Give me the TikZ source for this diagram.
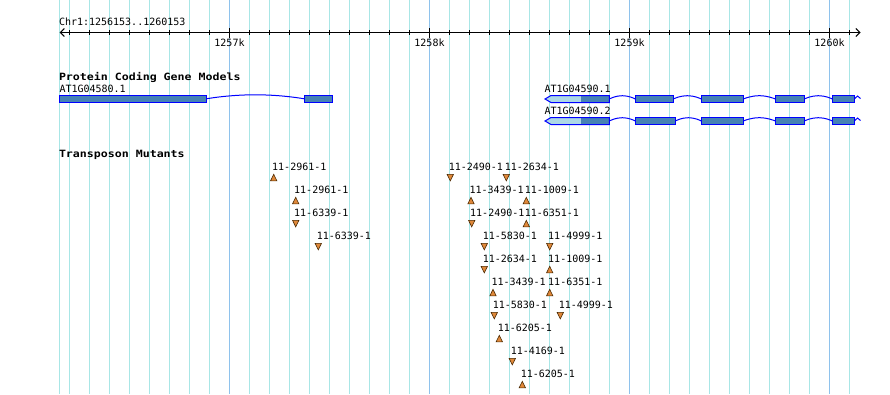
\documentclass[tikz,border=0pt]{standalone}
\usepackage{fontspec}
\usetikzlibrary{arrows.meta}
\newfontfamily\monof{DejaVu Sans Mono}
\newfontfamily\hdrf[FakeStretch=1.16]{DejaVu Sans Mono Bold}
\definecolor{minorgrid}{HTML}{A8E6E6}
\definecolor{majorgrid}{HTML}{8EC2EC}
\definecolor{exonfill}{HTML}{4682B4}
\definecolor{utrfill}{HTML}{ADD8E6}
\definecolor{exonline}{HTML}{0000FF}
\definecolor{mutfill}{HTML}{E0883A}
\definecolor{mutline}{HTML}{4A2800}
\tikzset{
  txt/.style={inner sep=0pt, outer sep=0pt, font=\monof\fontsize{10}{12}\selectfont, anchor=base west},
  hdr/.style={inner sep=0pt, outer sep=0pt, font=\hdrf\fontsize{10}{12}\selectfont, anchor=base west},
  ticklab/.style={inner sep=0pt, outer sep=0pt, font=\monof\fontsize{10}{12}\selectfont, anchor=base},
  gminor/.style={draw=minorgrid, line width=1pt},
  gmajor/.style={draw=majorgrid, line width=1pt},
  exon/.style={fill=exonfill, draw=exonline, line width=1pt},
  intron/.style={draw=exonline, line width=1pt},
  mutant/.style={fill=mutfill, draw=mutline, line width=0.6pt, line join=miter},
  axisline/.style={draw=black, line width=1pt}
}
\begin{document}
\begin{tikzpicture}[x=1pt,y=-1pt]
\useasboundingbox (0,0) rectangle (890,394);
\fill[white] (0,0) rectangle (890,394);
% grid
\draw[gminor] (59.5,0) -- (59.5,394);
\foreach \x in {69.5,89.5,...,849.5} {\draw[gminor] (\x,0) -- (\x,394);}
\foreach \x in {229.5,429.5,629.5,829.5} {\draw[gmajor] (\x,0) -- (\x,394);}
% ruler
\node[txt] (chr) at (59,25) {Chr1:1256153..1260153};
\coordinate (axL) at (59.6,32.5);
\coordinate (axR) at (860.5,32.5);
\draw[axisline, {Straight Barb[length=4pt,width=8pt]}-{Straight Barb[length=4pt,width=8pt]}] (axL) -- (axR);
\foreach \x in {69.5,89.5,...,849.5} {\draw[axisline] (\x,30) -- (\x,35);}
\foreach \x in {229.5,429.5,629.5,829.5} {\draw[axisline] (\x,28) -- (\x,37.5);}
\node[ticklab] (t1) at (229.5,46) {1257k};
\node[ticklab] (t2) at (429.5,46) {1258k};
\node[ticklab] (t3) at (629.5,46) {1259k};
\node[ticklab] (t4) at (829.5,46) {1260k};
% gene models
\node[hdr] (pcgm) at (59,80) {Protein Coding Gene Models};
\node[txt] (g1) at (59.5,92) {AT1G04580.1};
\draw[intron] (206.3,98.8) parabola bend (255.3,94.8) (304.3,98.8);
\draw[exon] (59.5,95.5) rectangle (206.3,102.5);
\draw[exon] (304.3,95.5) rectangle (332.7,102.5);
\node[txt] (g2) at (544.5,92) {AT1G04590.1};
\node[txt] (g3) at (544.5,114.3) {AT1G04590.2};
% AT1G04590.1
\foreach \a/\b in {609.3/635.3,673.3/701.3,743.3/775.3,804.3/832.3} {
  \draw[intron] (\a,99) parabola bend ({(\a+\b)/2},95.7) (\b,99);
}
\draw[intron] (854.3,99) -- (857.5,96) -- (860.5,98.5);
\fill[utrfill] (545,99) -- (551,95.5) -- (581,95.5) -- (581,102.5) -- (551,102.5) -- cycle;
\fill[exonfill] (581,95.5) rectangle (609.3,102.5);
\draw[intron, line join=miter] (545,99) -- (551,95.5) -- (609.3,95.5) -- (609.3,102.5) -- (551,102.5) -- cycle;
\foreach \a/\b in {635.3/673.3,701.3/743.3,775.3/804.3,832.3/854.3} {
  \draw[exon] (\a,95.5) rectangle (\b,102.5);
}
% AT1G04590.2
\foreach \a/\b in {609.3/635.3,675.3/701.3,743.3/775.3,804.3/832.3} {
  \draw[intron] (\a,121) parabola bend ({(\a+\b)/2},117.7) (\b,121);
}
\draw[intron] (854.3,121) -- (857.5,118) -- (860.5,120.5);
\fill[utrfill] (545,121) -- (551,117.5) -- (581,117.5) -- (581,124.5) -- (551,124.5) -- cycle;
\fill[exonfill] (581,117.5) rectangle (609.3,124.5);
\draw[intron, line join=miter] (545,121) -- (551,117.5) -- (609.3,117.5) -- (609.3,124.5) -- (551,124.5) -- cycle;
\foreach \a/\b in {635.3/675.3,701.3/743.3,775.3/804.3,832.3/854.3} {
  \draw[exon] (\a,117.5) rectangle (\b,124.5);
}
% transposon mutants
\node[hdr] (tm) at (59,157.5) {Transposon Mutants};
\foreach \n/\r/\c/\s/\t in {
  a/1/273.7/1/11-2961-1,
  b/2/295.7/1/11-2961-1,
  c/3/295.7/-1/11-6339-1,
  d/4/318.3/-1/11-6339-1,
  e/1/450.3/-1/11-2490-1,
  f/1/506.3/-1/11-2634-1,
  g/2/471.0/1/11-3439-1,
  h/2/526.3/1/11-1009-1,
  i/3/471.7/-1/11-2490-1,
  j/3/526.3/1/11-6351-1,
  k/4/484.3/-1/11-5830-1,
  l/4/549.7/-1/11-4999-1,
  m/5/484.3/-1/11-2634-1,
  n/5/549.7/1/11-1009-1,
  o/6/493.0/1/11-3439-1,
  p/6/549.7/1/11-6351-1,
  q/7/494.3/-1/11-5830-1,
  r/7/560.3/-1/11-4999-1,
  s/8/499.3/1/11-6205-1,
  t/9/512.3/-1/11-4169-1,
  u/10/522.3/1/11-6205-1}
{
  \pgfmathsetmacro\yc{177.6+23*(\r-1)}
  \pgfmathsetmacro\yl{170.2+23*(\r-1)}
  \pgfmathsetmacro\yb{\yc+\s*3.3}
  \pgfmathsetmacro\yt{\yc-\s*3.3}
  \node[txt] (lab\n) at (\c-1.5,\yl) {\t};
  \coordinate (tip\n) at (\c,\yt);
  \draw[mutant] (\c-3.2,\yb) -- (\c+3.2,\yb) -- (tip\n) -- cycle;
}
\end{tikzpicture}
\end{document}
